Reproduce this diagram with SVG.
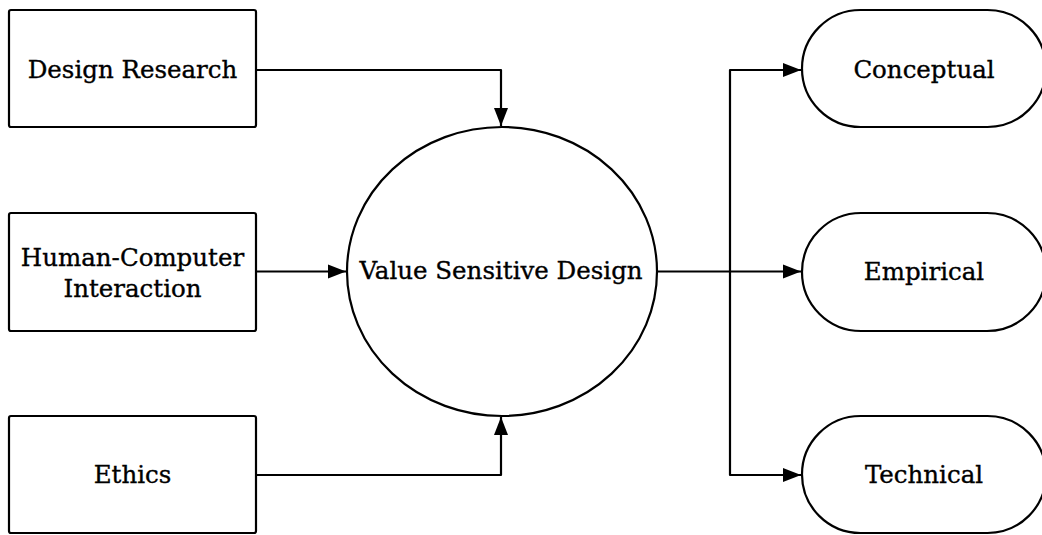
<svg xmlns="http://www.w3.org/2000/svg" width="1042" height="535" viewBox="0 0 1042 535">
  <style>
    .shape { fill: #ffffff; stroke: #000000; stroke-width: 2.2; }
    .label { font-family: "DejaVu Serif", "Liberation Serif", serif; font-size: 24.5px; fill: #000000; stroke: #000000; stroke-width: 0.35; text-anchor: middle; }
    .edge { fill: none; stroke: #000000; stroke-width: 2.2; stroke-linejoin: round; }
  </style>
  <defs>
    <marker id="arrow" markerWidth="19" markerHeight="15" refX="18" refY="7.5" orient="auto" markerUnits="userSpaceOnUse">
      <path d="M0,0.5 L18,7.5 L0,14.5 Z" fill="#000000"/>
    </marker>
  </defs>

  <rect width="1042" height="535" fill="#ffffff"/>

  <!-- connectors -->
  <g id="connectors">
    <path class="edge" d="M253,70 H501 V126" marker-end="url(#arrow)"/>
    <path class="edge" d="M256,271.5 H346" marker-end="url(#arrow)"/>
    <path class="edge" d="M256,475 H501 V417" marker-end="url(#arrow)"/>
    <path class="edge" d="M657,271.5 H730"/>
    <path class="edge" d="M730,271.5 V70 H801" marker-end="url(#arrow)"/>
    <path class="edge" d="M730,271.5 H801" marker-end="url(#arrow)"/>
    <path class="edge" d="M730,271.5 V475 H801" marker-end="url(#arrow)"/>
  </g>

  <!-- source boxes -->
  <g id="design-research">
    <rect class="shape" x="9" y="10" width="247" height="117" rx="2"/>
    <text class="label" x="132.5" y="78">Design Research</text>
  </g>
  <g id="hci">
    <rect class="shape" x="9" y="213" width="247" height="118" rx="2"/>
    <text class="label" x="132.5" y="266">Human-Computer</text>
    <text class="label" x="132.5" y="297">Interaction</text>
  </g>
  <g id="ethics">
    <rect class="shape" x="9" y="416" width="247" height="117" rx="2"/>
    <text class="label" x="132.5" y="483">Ethics</text>
  </g>

  <!-- central ellipse -->
  <g id="value-sensitive-design">
    <ellipse class="shape" cx="502" cy="271.5" rx="155" ry="144.5"/>
    <text class="label" x="501" y="279">Value Sensitive Design</text>
  </g>

  <!-- investigation pills -->
  <g id="conceptual">
    <rect class="shape" x="802" y="10" width="244" height="117" rx="58.5"/>
    <text class="label" x="924" y="78">Conceptual</text>
  </g>
  <g id="empirical">
    <rect class="shape" x="802" y="213" width="244" height="118" rx="59"/>
    <text class="label" x="924" y="280">Empirical</text>
  </g>
  <g id="technical">
    <rect class="shape" x="802" y="416" width="244" height="117" rx="58.5"/>
    <text class="label" x="924" y="483">Technical</text>
  </g>
</svg>
